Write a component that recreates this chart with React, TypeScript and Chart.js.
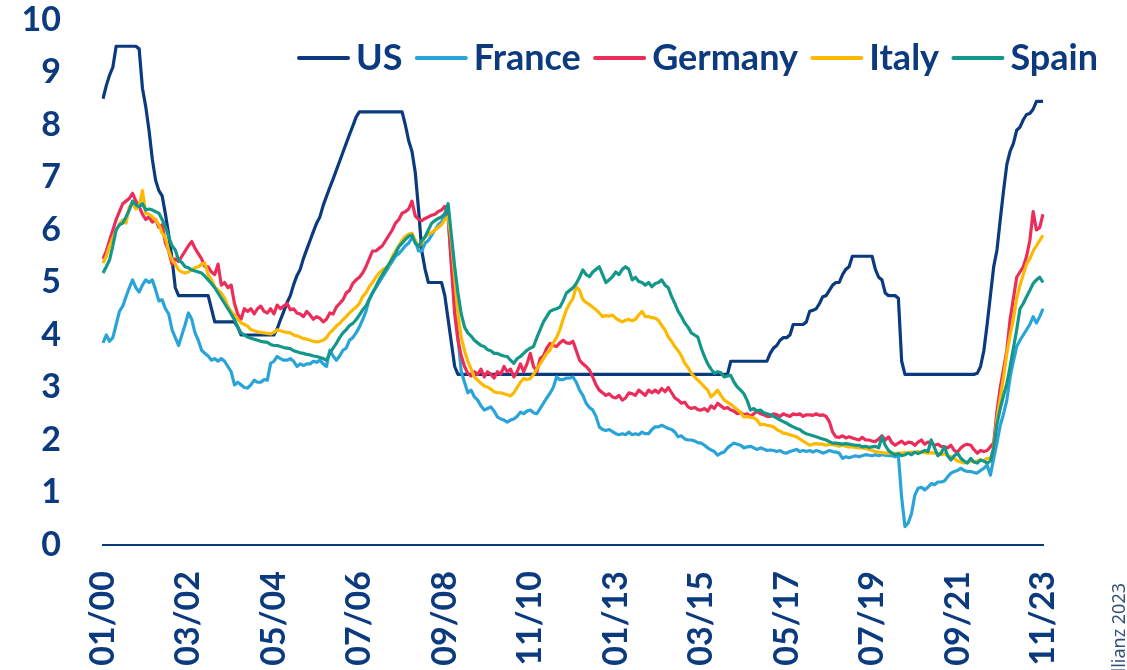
import React, { useEffect, useRef } from 'react';
import { Chart, registerables } from 'chart.js';

Chart.register(...registerables);

const NAVY = '#0b3a7e';
const FONT = 'Lato, "Noto Sans", sans-serif';

// Monthly categories Jan 2000 .. Nov 2023
const START_YEAR = 2000;
const END_YEAR = 2023;
const END_MONTH = 11;
const months: string[] = [];
for (let y = START_YEAR; y <= END_YEAR; y++) {
  for (let m = 1; m <= 12; m++) {
    if (y === END_YEAR && m > END_MONTH) break;
    months.push(`${String(m).padStart(2, '0')}/${String(y % 100).padStart(2, '0')}`);
  }
}

const TICK_LABELS = ['01/00', '03/02', '05/04', '07/06', '09/08', '11/10', '01/13', '03/15', '05/17', '07/19', '09/21', '11/23'];
const Y_TICKS = [0, 1, 2, 3, 4, 5, 6, 7, 8, 9, 10];

const US = [
  8.5, 8.75, 8.95, 9.1, 9.5, 9.5, 9.5, 9.5, 9.5, 9.5, 9.5, 9.45,
  8.7, 8.35, 7.9, 7.35, 6.95, 6.75, 6.65, 6.3, 5.9, 5.45, 4.9, 4.75,
  4.75, 4.75, 4.75, 4.75, 4.75, 4.75, 4.75, 4.75, 4.75, 4.5, 4.25, 4.25,
  4.25, 4.25, 4.25, 4.25, 4.25, 4.15, 4.0, 4.0, 4.0, 4.0, 4.0, 4.0,
  4.0, 4.0, 4.0, 4.0, 4.0, 4.12, 4.29, 4.45, 4.62, 4.75, 4.96, 5.13,
  5.25, 5.46, 5.63, 5.8, 5.97, 6.13, 6.25, 6.47, 6.64, 6.81, 6.97, 7.14,
  7.31, 7.48, 7.65, 7.82, 7.98, 8.15, 8.25, 8.25, 8.25, 8.25, 8.25, 8.25,
  8.25, 8.25, 8.25, 8.25, 8.25, 8.25, 8.25, 8.25, 8.0, 7.7, 7.5, 7.1,
  6.4, 5.6, 5.25, 5.0, 5.0, 5.0, 5.0, 5.0, 4.75, 4.3, 3.85, 3.4,
  3.25, 3.25, 3.25, 3.25, 3.25, 3.25, 3.25, 3.25, 3.25, 3.25, 3.25, 3.25,
  3.25, 3.25, 3.25, 3.25, 3.25, 3.25, 3.25, 3.25, 3.25, 3.25, 3.25, 3.25,
  3.25, 3.25, 3.25, 3.25, 3.25, 3.25, 3.25, 3.25, 3.25, 3.25, 3.25, 3.25,
  3.25, 3.25, 3.25, 3.25, 3.25, 3.25, 3.25, 3.25, 3.25, 3.25, 3.25, 3.25,
  3.25, 3.25, 3.25, 3.25, 3.25, 3.25, 3.25, 3.25, 3.25, 3.25, 3.25, 3.25,
  3.25, 3.25, 3.25, 3.25, 3.25, 3.25, 3.25, 3.25, 3.25, 3.25, 3.25, 3.25,
  3.25, 3.25, 3.25, 3.25, 3.25, 3.25, 3.25, 3.25, 3.25, 3.25, 3.25, 3.5,
  3.5, 3.5, 3.5, 3.5, 3.5, 3.5, 3.5, 3.5, 3.5, 3.5, 3.5, 3.65,
  3.75, 3.8, 3.9, 3.95, 3.95, 4.0, 4.2, 4.2, 4.2, 4.2, 4.25, 4.45,
  4.47, 4.5, 4.6, 4.73, 4.75, 4.85, 4.95, 5.0, 5.0, 5.15, 5.25, 5.3,
  5.5, 5.5, 5.5, 5.5, 5.5, 5.5, 5.5, 5.25, 5.1, 5.05, 4.8, 4.75,
  4.75, 4.75, 4.7, 3.5, 3.25, 3.25, 3.25, 3.25, 3.25, 3.25, 3.25, 3.25,
  3.25, 3.25, 3.25, 3.25, 3.25, 3.25, 3.25, 3.25, 3.25, 3.25, 3.25, 3.25,
  3.25, 3.25, 3.27, 3.4, 3.7, 4.2, 4.75, 5.3, 5.62, 6.2, 6.75, 7.25,
  7.5, 7.65, 7.9, 7.96, 8.1, 8.2, 8.22, 8.3, 8.45, 8.45, 8.45,
];

const FRANCE = [
  3.85, 4.0, 3.88, 3.95, 4.2, 4.45, 4.55, 4.73, 4.9, 5.05, 4.9, 4.82,
  4.95, 5.05, 5.0, 5.05, 4.86, 4.65, 4.67, 4.5, 4.4, 4.1, 3.95, 3.8,
  4.0, 4.2, 4.42, 4.3, 4.04, 3.9, 3.71, 3.65, 3.6, 3.52, 3.55, 3.5,
  3.55, 3.5, 3.4, 3.3, 3.05, 3.1, 3.05, 3.0, 2.99, 3.05, 3.14, 3.1,
  3.1, 3.15, 3.14, 3.46, 3.5, 3.59, 3.55, 3.52, 3.52, 3.55, 3.5, 3.4,
  3.45, 3.42, 3.45, 3.45, 3.5, 3.48, 3.52, 3.45, 3.4, 3.71, 3.6, 3.52,
  3.6, 3.71, 3.75, 3.9, 3.95, 4.04, 4.15, 4.29, 4.45, 4.67, 4.8, 4.9,
  5.0, 5.1, 5.2, 5.3, 5.4, 5.5, 5.55, 5.62, 5.7, 5.75, 5.85, 5.8,
  5.6, 5.6, 5.75, 5.8, 5.9, 6.0, 6.1, 6.15, 6.32, 6.2, 5.4, 4.6,
  3.95, 3.3, 3.1, 2.9, 2.95, 2.82, 2.76, 2.65, 2.57, 2.6, 2.63, 2.55,
  2.44, 2.4, 2.38, 2.34, 2.38, 2.4, 2.45, 2.53, 2.5, 2.55, 2.57, 2.52,
  2.5, 2.6, 2.7, 2.8, 2.89, 3.0, 3.2, 3.15, 3.15, 3.18, 3.18, 3.2,
  3.1, 2.95, 2.85, 2.7, 2.62, 2.57, 2.45, 2.25, 2.2, 2.18, 2.2, 2.16,
  2.12, 2.1, 2.12, 2.1, 2.15, 2.1, 2.12, 2.1, 2.15, 2.12, 2.12, 2.2,
  2.25, 2.25, 2.28, 2.25, 2.22, 2.2, 2.15, 2.06, 2.08, 2.02, 2.0, 2.0,
  1.98, 1.95, 1.94, 1.9, 1.85, 1.81, 1.78, 1.71, 1.75, 1.77, 1.85, 1.9,
  1.94, 1.92, 1.9, 1.85, 1.87, 1.88, 1.85, 1.82, 1.85, 1.83, 1.8, 1.81,
  1.8, 1.78, 1.8, 1.76, 1.75, 1.78, 1.8, 1.82, 1.78, 1.8, 1.78, 1.8,
  1.77, 1.8, 1.78, 1.75, 1.77, 1.8, 1.78, 1.77, 1.75, 1.65, 1.68, 1.66,
  1.68, 1.7, 1.68, 1.7, 1.72, 1.71, 1.7, 1.72, 1.7, 1.72, 1.71, 1.7,
  1.7, 1.68, 1.7, 0.9, 0.35, 0.42, 0.6, 0.95, 1.08, 1.1, 1.05, 1.1,
  1.17, 1.15, 1.2, 1.2, 1.22, 1.3, 1.37, 1.4, 1.42, 1.46, 1.42, 1.4,
  1.4, 1.38, 1.37, 1.42, 1.46, 1.52, 1.33, 1.65, 1.95, 2.28, 2.5, 2.76,
  3.2, 3.5, 3.78, 3.9, 4.0, 4.1, 4.2, 4.35, 4.23, 4.35, 4.5,
];

const GERMANY = [
  5.45, 5.6, 5.8, 6.0, 6.2, 6.35, 6.5, 6.55, 6.6, 6.7, 6.55, 6.45,
  6.3, 6.2, 6.25, 6.15, 6.2, 6.05, 6.1, 5.75, 5.6, 5.35, 5.45, 5.4,
  5.5, 5.6, 5.7, 5.78, 5.65, 5.55, 5.45, 5.3, 5.3, 5.2, 5.15, 5.35,
  4.95, 5.0, 4.9, 4.95, 4.6, 4.4, 4.3, 4.5, 4.45, 4.5, 4.4, 4.5,
  4.55, 4.45, 4.42, 4.5, 4.4, 4.57, 4.5, 4.55, 4.6, 4.48, 4.5, 4.42,
  4.4, 4.35, 4.45, 4.38, 4.3, 4.35, 4.32, 4.25, 4.3, 4.42, 4.4, 4.53,
  4.6, 4.67, 4.8, 4.85, 4.98, 5.05, 5.1, 5.18, 5.3, 5.45, 5.6, 5.6,
  5.65, 5.7, 5.8, 5.9, 6.0, 6.13, 6.2, 6.32, 6.35, 6.4, 6.55, 6.27,
  6.2, 6.18, 6.22, 6.25, 6.28, 6.3, 6.35, 6.38, 6.45, 6.3, 5.3, 4.4,
  3.9, 3.6, 3.4, 3.27, 3.22, 3.3, 3.25, 3.35, 3.2, 3.3, 3.25, 3.18,
  3.3, 3.25, 3.4, 3.3, 3.35, 3.2, 3.3, 3.45, 3.3, 3.45, 3.65, 3.4,
  3.3, 3.55, 3.6, 3.75, 3.84, 3.8, 3.78, 3.85, 3.9, 3.85, 3.84, 3.88,
  3.7, 3.52, 3.45, 3.4, 3.33, 3.2, 3.05, 2.95, 2.9, 2.85, 2.88, 2.82,
  2.8, 2.85, 2.76, 2.8, 2.9, 2.88, 2.85, 2.95, 2.9, 2.85, 2.95, 2.9,
  2.95, 2.9, 2.98, 2.92, 3.0, 2.9, 2.8, 2.76, 2.7, 2.72, 2.63, 2.6,
  2.62, 2.58, 2.57, 2.6, 2.55, 2.65, 2.6, 2.7, 2.65, 2.6, 2.62, 2.57,
  2.55, 2.5, 2.52, 2.48, 2.5, 2.45, 2.5, 2.55, 2.5, 2.48, 2.45, 2.45,
  2.5, 2.48, 2.45, 2.5, 2.47, 2.45, 2.5, 2.48, 2.5, 2.45, 2.48, 2.48,
  2.47, 2.5, 2.47, 2.48, 2.45, 2.35, 2.15, 2.06, 2.05, 2.08, 2.04, 2.06,
  2.04, 2.02, 2.0, 2.05, 2.0, 2.0, 1.98, 1.97, 2.02, 2.08, 2.0, 2.06,
  1.95, 1.9, 1.94, 1.98, 1.92, 1.96, 1.95, 1.9, 1.96, 2.0, 1.92, 1.96,
  1.95, 1.9, 1.92, 1.88, 1.87, 1.85, 1.9, 1.8, 1.77, 1.85, 1.9, 1.92,
  1.9, 1.82, 1.75, 1.8, 1.78, 1.8, 1.87, 1.95, 2.55, 3.0, 3.35, 3.71,
  4.3, 4.7, 5.1, 5.2, 5.3, 5.5, 5.8, 6.35, 6.0, 6.05, 6.3,
];

const ITALY = [
  5.37, 5.5, 5.7, 5.85, 6.0, 6.1, 6.19, 6.13, 6.44, 6.5, 6.4, 6.45,
  6.75, 6.32, 6.3, 6.25, 6.19, 6.1, 5.94, 5.85, 5.6, 5.43, 5.35, 5.24,
  5.2, 5.18, 5.2, 5.24, 5.28, 5.3, 5.35, 5.37, 5.15, 5.05, 4.92, 4.85,
  4.8, 4.7, 4.55, 4.45, 4.38, 4.3, 4.23, 4.2, 4.17, 4.1, 4.08, 4.06,
  4.05, 4.04, 4.03, 4.02, 4.05, 4.1, 4.08, 4.06, 4.05, 4.04, 4.0, 3.98,
  3.96, 3.93, 3.92, 3.9, 3.88, 3.87, 3.88, 3.9, 3.95, 4.04, 4.1, 4.17,
  4.22, 4.29, 4.35, 4.42, 4.48, 4.53, 4.6, 4.73, 4.8, 4.92, 5.0, 5.1,
  5.18, 5.24, 5.28, 5.33, 5.49, 5.6, 5.7, 5.81, 5.88, 5.92, 5.94, 5.8,
  5.68, 5.75, 5.87, 5.92, 5.95, 6.0, 6.05, 6.1, 6.2, 6.25, 5.8, 5.1,
  4.4, 3.95, 3.7, 3.5, 3.35, 3.2, 3.14, 3.08, 3.03, 3.01, 2.97, 2.92,
  2.9, 2.9, 2.88, 2.86, 2.84, 2.9, 3.0, 3.1, 3.17, 3.15, 3.17, 3.25,
  3.35, 3.45, 3.55, 3.65, 3.71, 3.85, 3.95, 4.1, 4.3, 4.48, 4.6, 4.7,
  4.92, 4.85, 4.67, 4.62, 4.58, 4.53, 4.48, 4.42, 4.35, 4.37, 4.36, 4.38,
  4.32, 4.28, 4.25, 4.28, 4.3, 4.27, 4.3, 4.38, 4.45, 4.35, 4.35, 4.33,
  4.32, 4.28, 4.18, 4.1, 3.96, 3.88, 3.78, 3.7, 3.6, 3.46, 3.38, 3.27,
  3.2, 3.14, 3.08, 3.01, 2.95, 2.82, 2.88, 2.95, 2.85, 2.76, 2.72, 2.68,
  2.63, 2.58, 2.52, 2.44, 2.45, 2.43, 2.42, 2.38, 2.29, 2.3, 2.28, 2.27,
  2.25, 2.2, 2.17, 2.13, 2.12, 2.1, 2.08, 2.06, 2.02, 1.98, 1.94, 1.9,
  1.92, 1.93, 1.92, 1.92, 1.9, 1.92, 1.91, 1.9, 1.88, 1.9, 1.88, 1.87,
  1.87, 1.86, 1.85, 1.85, 1.84, 1.82, 1.8, 1.78, 1.77, 1.76, 1.75, 1.75,
  1.75, 1.74, 1.75, 1.75, 1.76, 1.75, 1.77, 1.76, 1.78, 1.77, 1.76, 1.75,
  1.76, 1.75, 1.75, 1.72, 1.74, 1.7, 1.68, 1.65, 1.6, 1.58, 1.56, 1.58,
  1.6, 1.58, 1.6, 1.62, 1.6, 1.65, 1.65, 1.85, 2.4, 2.8, 3.2, 3.65,
  4.0, 4.3, 4.7, 4.95, 5.15, 5.35, 5.45, 5.6, 5.7, 5.8, 5.9,
];

const SPAIN = [
  5.18, 5.3, 5.43, 5.7, 6.0, 6.1, 6.13, 6.25, 6.38, 6.55, 6.48, 6.44,
  6.5, 6.38, 6.4, 6.38, 6.35, 6.32, 6.2, 6.06, 5.87, 5.7, 5.62, 5.43,
  5.38, 5.3, 5.28, 5.24, 5.22, 5.2, 5.18, 5.12, 5.05, 4.98, 4.9, 4.8,
  4.7, 4.6, 4.5, 4.4, 4.29, 4.15, 4.04, 4.0, 3.96, 3.94, 3.92, 3.9,
  3.88, 3.87, 3.86, 3.82, 3.8, 3.8, 3.78, 3.76, 3.75, 3.74, 3.7, 3.68,
  3.66, 3.65, 3.63, 3.62, 3.6, 3.59, 3.57, 3.55, 3.52, 3.65, 3.75, 3.84,
  3.95, 4.04, 4.1, 4.18, 4.22, 4.29, 4.38, 4.48, 4.55, 4.68, 4.8, 4.92,
  5.05, 5.15, 5.25, 5.35, 5.45, 5.55, 5.68, 5.75, 5.82, 5.88, 5.9, 5.75,
  5.68, 5.8, 5.87, 6.0, 6.13, 6.18, 6.22, 6.25, 6.3, 6.5, 5.9, 5.3,
  4.8, 4.4, 4.15, 4.04, 3.98, 3.9, 3.85, 3.8, 3.78, 3.72, 3.7, 3.65,
  3.65, 3.62, 3.6, 3.59, 3.52, 3.46, 3.55, 3.59, 3.65, 3.71, 3.75, 3.78,
  3.95, 4.1, 4.25, 4.35, 4.45, 4.48, 4.5, 4.53, 4.65, 4.8, 4.85, 4.9,
  4.98, 5.1, 5.24, 5.15, 5.11, 5.2, 5.25, 5.3, 5.15, 5.0, 5.05, 5.11,
  5.2, 5.15, 5.25, 5.3, 5.25, 5.05, 5.1, 5.02, 5.0, 4.95, 5.0, 4.92,
  4.98, 5.0, 5.05, 4.95, 4.9, 4.73, 4.6, 4.45, 4.35, 4.23, 4.15, 4.04,
  4.0, 3.96, 3.75, 3.59, 3.45, 3.35, 3.27, 3.3, 3.28, 3.2, 3.22, 3.23,
  3.1, 3.01, 2.95, 2.88, 2.75, 2.57, 2.6, 2.55, 2.57, 2.52, 2.5, 2.48,
  2.45, 2.42, 2.38, 2.35, 2.32, 2.28, 2.25, 2.22, 2.2, 2.15, 2.12, 2.1,
  2.08, 2.06, 2.04, 2.02, 2.0, 1.97, 1.94, 1.94, 1.93, 1.92, 1.93, 1.92,
  1.91, 1.9, 1.9, 1.87, 1.88, 1.86, 1.87, 1.88, 1.85, 2.06, 1.9, 1.8,
  1.75, 1.72, 1.74, 1.7, 1.72, 1.75, 1.72, 1.77, 1.74, 1.77, 1.8, 1.78,
  2.0, 1.85, 1.7, 1.75, 1.87, 1.7, 1.62, 1.7, 1.75, 1.65, 1.6, 1.56,
  1.65, 1.58, 1.56, 1.62, 1.6, 1.56, 1.6, 1.85, 2.3, 2.6, 2.85, 3.08,
  3.4, 3.75, 4.1, 4.5, 4.6, 4.73, 4.85, 4.98, 5.05, 5.1, 5.0,
];

const SERIES_NAMES = ['US', 'France', 'Germany', 'Italy', 'Spain'];
const SERIES_COLORS = ['#0b3a7e', '#2aa4d8', '#ec2d5a', '#fcb900', '#13978a'];
const SERIES_DATA = [US, FRANCE, GERMANY, ITALY, SPAIN];

const SOURCE_TEXT = 'Allianz 2023';

const overlayPlugin = {
  id: 'overlayLegendSource',
  afterDraw(chart: any) {
    const ctx = chart.ctx as CanvasRenderingContext2D;
    ctx.save();
    // Legend
    const fontSize = 36;
    ctx.font = `bold ${fontSize}px ${FONT}`;
    const sample = 53;
    const gapText = 6;
    const items = chart.data.datasets.map((ds: any) => ({
      label: ds.label,
      color: ds.borderColor,
      w: ctx.measureText(ds.label).width,
    }));
    const right = 1098;
    const left = 297;
    const textTotal = items.reduce((s: number, it: any) => s + sample + gapText + it.w, 0);
    const gapItem = Math.max(6, (right - left - textTotal) / (items.length - 1));
    let x = right - textTotal - gapItem * (items.length - 1);
    const yLine = 58;
    items.forEach((it: any) => {
      ctx.strokeStyle = it.color;
      ctx.lineWidth = 4;
      ctx.lineCap = 'round';
      ctx.beginPath();
      ctx.moveTo(x + 2, yLine);
      ctx.lineTo(x + sample - 2, yLine);
      ctx.stroke();
      x += sample + gapText;
      ctx.fillStyle = NAVY;
      ctx.textAlign = 'left';
      ctx.textBaseline = 'alphabetic';
      ctx.fillText(it.label, x, 70);
      x += it.w + gapItem;
    });
    // Source (rotated, partly cut by the page edge)
    ctx.font = `18px "Noto Sans", sans-serif`;
    ctx.fillStyle = '#34507a';
    ctx.translate(1120, 583);
    ctx.rotate(-Math.PI / 2);
    ctx.textAlign = 'right';
    ctx.textBaseline = 'middle';
    ctx.fillText(SOURCE_TEXT, 0, 0);
    ctx.restore();
  },
};

export default function App() {
  const canvasRef = useRef<HTMLCanvasElement | null>(null);

  useEffect(() => {
    const canvas = canvasRef.current;
    if (!canvas) return;
    const chart = new Chart(canvas, {
      type: 'line',
      data: {
        labels: months,
        datasets: SERIES_NAMES.map((name, i) => ({
          label: name,
          data: SERIES_DATA[i],
          borderColor: SERIES_COLORS[i],
          backgroundColor: SERIES_COLORS[i],
          borderWidth: 3.2,
          pointRadius: 0,
          pointHoverRadius: 0,
          tension: 0,
          fill: false,
          order: SERIES_NAMES.length - i,
          borderJoinStyle: 'round' as const,
        })),
      },
      options: {
        responsive: false,
        animation: false,
        devicePixelRatio: 1,
        layout: { padding: { top: 20, right: 84, left: 0, bottom: 0 } },
        plugins: {
          legend: { display: false },
          tooltip: { enabled: false },
        },
        scales: {
          x: {
            type: 'category',
            offset: false,
            grid: { display: false, drawTicks: false },
            border: { display: true, color: NAVY, width: 2 },
            ticks: {
              autoSkip: false,
              maxRotation: 90,
              minRotation: 90,
              padding: 26,
              color: NAVY,
              font: { family: FONT, size: 34, weight: 'bold' },
              callback: function (this: any, value: any) {
                const lab = this.getLabelForValue(value);
                return TICK_LABELS.includes(lab) ? lab : '';
              },
            },
            afterFit: (scale: any) => {
              scale.height = 125;
              scale.paddingLeft = 0;
              scale.paddingRight = 0;
            },
          },
          y: {
            min: 0,
            max: 10,
            grid: { display: false, drawTicks: false },
            border: { display: false },
            afterBuildTicks: (scale: any) => {
              scale.ticks = Y_TICKS.map((v) => ({ value: v }));
            },
            ticks: {
              padding: 42,
              color: NAVY,
              font: { family: FONT, size: 34, weight: 'bold' },
            },
            afterFit: (scale: any) => {
              scale.width = 103;
              scale.paddingTop = 0;
              scale.paddingBottom = 0;
            },
          },
        },
      },
      plugins: [overlayPlugin],
    });
    return () => chart.destroy();
  }, []);

  return (
    <div style={{ position: 'fixed', left: 0, top: 0, width: 1127, height: 670, background: '#fff' }}>
      <canvas ref={canvasRef} width={1127} height={670} style={{ display: 'block' }} />
    </div>
  );
}
